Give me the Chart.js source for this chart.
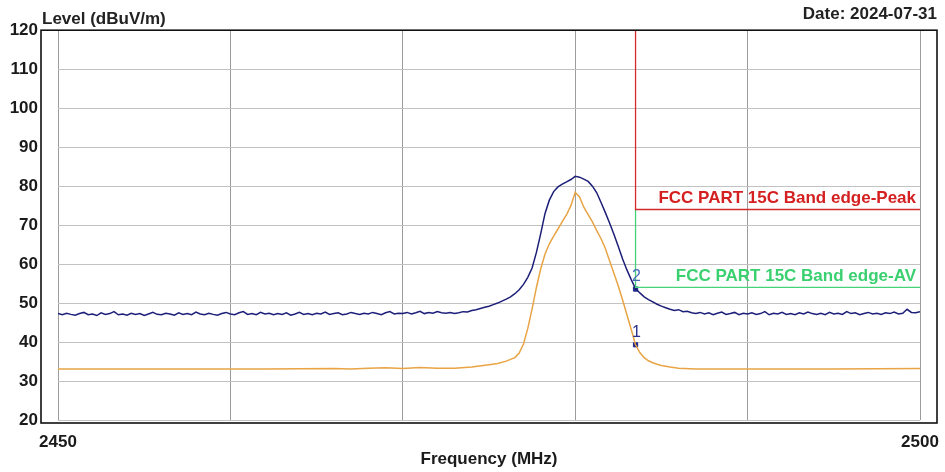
<!DOCTYPE html>
<html lang="en">
<head>
  <meta charset="UTF-8">
  <title>Band edge - Level vs Frequency</title>
  <script src="https://cdn.jsdelivr.net/npm/chart.js"></script>
  <style>
    body {
      margin: 0;
      background: #fff;
    }
    #wrap {
      position: relative;
      width: 945px;
      height: 472px;
    }
  </style>
</head>
<body>
  <div id="wrap"><canvas id="chart"></canvas></div>

  <script>
    // sweep grid of the peak trace (MHz)
    const sweepStart = 2450;
    const sweepStep = 0.25;

    // peak detector trace, dBuV/m, one value per sweep step
    const peakLevels = [
      47.3, 47.0, 47.4, 47.1, 46.9, 47.3, 47.6, 47.0, 47.2, 46.8,
      47.5, 47.1, 47.3, 47.8, 47.0, 47.2, 46.9, 47.4, 47.1, 47.3,
      46.8, 47.2, 47.6, 47.1, 47.0, 47.4, 47.2, 46.9, 47.5, 47.1,
      47.3, 47.0, 47.7, 47.2, 47.0, 47.4, 47.1, 46.9, 47.3, 47.6,
      47.2, 47.0, 47.5, 47.8, 47.1, 47.3, 47.0, 47.6, 47.2, 47.4,
      47.0, 47.3, 47.1, 47.5, 46.9, 47.2, 47.6, 47.1, 47.3, 47.0,
      47.4, 47.2, 47.7, 47.1, 47.3, 47.5, 47.0, 47.2, 47.6, 47.3,
      47.1, 47.4, 47.2, 47.6, 47.3, 47.0, 47.5, 47.8, 47.2, 47.4,
      47.3, 47.6, 47.2, 47.5, 47.9, 47.3, 47.6, 47.4, 47.8, 47.5,
      47.4, 47.6, 47.3, 47.5, 47.8, 47.7, 48.1, 48.3, 48.6, 48.9,
      49.2, 49.6, 50.0, 50.5, 51.0, 51.6, 52.4, 53.4, 54.8, 56.6,
      59.0, 63.0, 67.8, 73.0, 76.4, 78.6, 79.8, 80.5, 81.1, 81.7,
      82.5, 82.3, 81.8, 81.2, 80.0, 78.3, 75.8, 73.2, 70.5, 67.6,
      64.5, 61.3, 58.5, 56.0, 53.7, 52.6, 51.6, 50.9, 50.3, 49.7,
      49.2, 48.8, 48.4, 48.1, 48.3, 47.8, 47.9, 47.5, 47.3, 47.6,
      47.2, 47.5, 47.0, 47.4, 47.7, 47.1, 47.3, 47.6, 47.0, 47.4,
      47.2, 47.5, 47.1, 47.3, 47.8, 47.0, 47.4, 47.2, 47.6, 47.1,
      47.3, 47.0, 47.5, 47.2, 47.7, 47.3, 47.1, 47.4, 47.0, 47.6,
      47.2, 47.4, 47.1, 47.8, 47.3, 47.5, 47.0, 47.3, 47.6, 47.2,
      47.4, 47.1, 47.5, 47.3, 47.7, 47.2, 47.4, 48.4, 47.6, 47.5,
      47.8
    ];

    // average detector trace
    const avFreqs = [
      2450, 2456, 2462, 2466, 2467, 2468, 2469, 2470, 2471, 2472,
      2473, 2474, 2475, 2475.5, 2476, 2476.5, 2476.75, 2477, 2477.25, 2477.5,
      2477.75, 2478, 2478.25, 2478.5, 2478.75, 2479, 2479.25, 2479.5, 2479.75, 2480,
      2480.25, 2480.5, 2480.75, 2481, 2481.25, 2481.5, 2481.75, 2482, 2482.25, 2482.5,
      2482.75, 2483, 2483.25, 2483.5, 2483.75, 2484, 2484.25, 2484.5, 2484.75, 2485,
      2485.5, 2486, 2487, 2490, 2495, 2500
    ];
    const avLevels = [
      33.1, 33.1, 33.1, 33.2, 33.1, 33.3, 33.4, 33.2, 33.5, 33.3,
      33.3, 33.6, 34.2, 34.5, 35.1, 36.0, 37.2, 39.5, 43.5, 48.5,
      54.0, 58.8, 62.6, 65.2, 67.2, 69.0, 70.9, 72.7, 75.0, 78.4,
      77.2, 74.6, 72.7, 70.8, 68.6, 66.5, 64.0, 60.8, 57.6, 54.4,
      50.8, 47.0, 43.2, 39.3, 37.3, 36.0, 35.2, 34.7, 34.3, 34.0,
      33.6, 33.3, 33.1, 33.1, 33.1, 33.2
    ];

    // limit lines (band edge at 2483.5 MHz)
    const bandEdge = 2483.5;
    const peakLimit = 74;
    const avLimit = 54;
    const levelTop = 120;
    const limitEnd = 2500;

    // markers
    const markerNames = ["1", "2"];
    const markerFreqs = [2483.5, 2483.5];
    const markerLevels = [39.3, 53.6];

    const xLabeled = [2450, 2500];

    const peakPts = peakLevels.map((v, i) => ({ x: sweepStart + i * sweepStep, y: v }));
    const avPts = avFreqs.map((f, i) => ({ x: f, y: avLevels[i] }));
    const markerPts = markerFreqs.map((f, i) => ({ x: f, y: markerLevels[i] }));

    const FONT = "Arial, 'Liberation Sans', sans-serif";

    const decor = {
      id: "decor",
      beforeDraw(chart) {
        const c = chart.ctx;
        c.save();
        c.fillStyle = "#fff";
        c.fillRect(0, 0, chart.width, chart.height);
        c.restore();
      },
      afterDraw(chart) {
        const c = chart.ctx;
        const a = chart.chartArea;
        const xs = chart.scales.x, ys = chart.scales.y;
        c.save();
        // outer frame
        c.strokeStyle = "#111";
        c.lineWidth = 1.6;
        c.strokeRect(a.left - 17, a.top, a.right - a.left + 34, a.bottom - a.top + 3);

        // header texts
        c.fillStyle = "#222";
        c.font = "bold 17px " + FONT;
        c.textBaseline = "middle";
        c.textAlign = "left";
        c.fillText("Level (dBuV/m)", a.left - 16, a.top - 11);
        c.textAlign = "right";
        c.fillText("Date: 2024-07-31", a.right + 17, a.top - 16);

        // limit labels
        const xr = xs.getPixelForValue(limitEnd) - 4;
        c.fillStyle = "#d42020";
        c.fillText("FCC PART 15C Band edge-Peak", xr, ys.getPixelForValue(peakLimit) - 11);
        c.fillStyle = "#3ad070";
        c.fillText("FCC PART 15C Band edge-AV", xr, ys.getPixelForValue(avLimit) - 11);

        // marker numbers
        c.textAlign = "center";
        c.font = "16px " + FONT;
        markerPts.forEach((p, i) => {
          c.fillStyle = i === 1 ? "#4a6ab8" : "#27308f";
          c.fillText(markerNames[i], xs.getPixelForValue(p.x) + 1, ys.getPixelForValue(p.y) - 12);
        });
        c.restore();
      }
    };

    new Chart(document.getElementById("chart"), {
      type: "line",
      data: {
        datasets: [
          {
            label: "Peak limit",
            data: [{ x: bandEdge, y: levelTop }, { x: bandEdge, y: peakLimit }, { x: limitEnd, y: peakLimit }],
            borderColor: "#d42a2a",
            borderWidth: 1.3,
            pointRadius: 0
          },
          {
            label: "AV limit",
            data: [{ x: bandEdge, y: peakLimit }, { x: bandEdge, y: avLimit }, { x: limitEnd, y: avLimit }],
            borderColor: "#45d37a",
            borderWidth: 1.3,
            pointRadius: 0
          },
          {
            label: "Peak",
            data: peakPts,
            borderColor: "#1c1f78",
            borderWidth: 1.5,
            pointRadius: 0
          },
          {
            label: "AV",
            data: avPts,
            borderColor: "#e8a445",
            borderWidth: 1.5,
            pointRadius: 0
          },
          {
            type: "scatter",
            label: "Markers",
            data: markerPts,
            pointStyle: "rect",
            pointRadius: 3,
            backgroundColor: "#1f2a8c",
            borderColor: "#1f2a8c"
          }
        ]
      },
      options: {
        responsive: true,
        maintainAspectRatio: false,
        animation: false,
        layout: { padding: { top: 27, right: 25, left: 0, bottom: 0 } },
        plugins: {
          legend: { display: false },
          tooltip: { enabled: false }
        },
        scales: {
          x: {
            type: "linear",
            min: 2450,
            max: 2500,
            grid: { color: "#9c9c9c", drawTicks: false },
            border: { display: false },
            ticks: {
              stepSize: 10,
              padding: 12,
              maxRotation: 0,
              color: "#1a1a1a",
              font: { family: FONT, size: 17, weight: "bold" },
              callback: v => xLabeled.includes(v) ? String(v) : ""
            },
            title: {
              display: true,
              text: "Frequency (MHz)",
              color: "#1a1a1a",
              font: { family: FONT, size: 17, weight: "bold" },
              padding: { top: 0, bottom: 2 }
            },
            afterFit: s => {
              s.height = 52;
              s.paddingLeft = 0;
              s.paddingRight = 0;
            }
          },
          y: {
            min: 20,
            max: 120,
            grid: { color: "#c2c2c2", drawTicks: false },
            border: { display: false },
            ticks: {
              stepSize: 10,
              padding: 20,
              color: "#1a1a1a",
              font: { family: FONT, size: 17, weight: "bold" }
            },
            afterFit: s => { s.width = 58; }
          }
        }
      },
      plugins: [decor]
    });
  </script>
</body>
</html>
